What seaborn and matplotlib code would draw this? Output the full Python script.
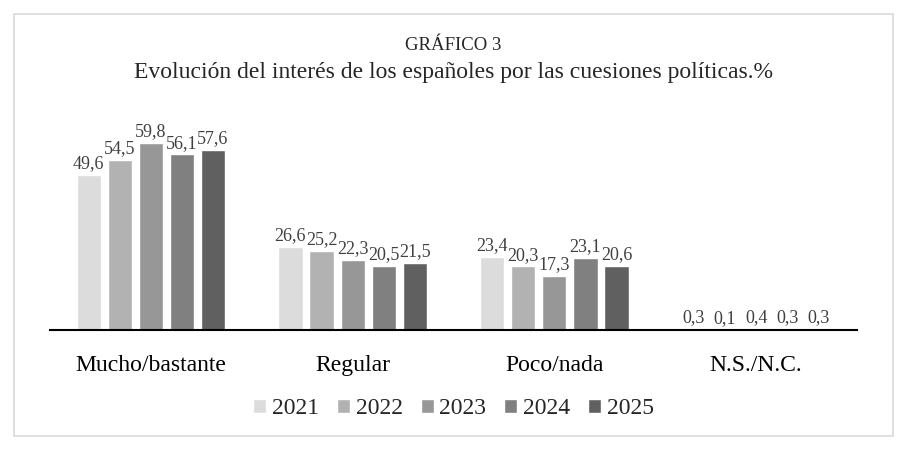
import matplotlib
matplotlib.use('Agg')
import matplotlib.pyplot as plt
import seaborn as sns
import pandas as pd
from matplotlib.patches import Rectangle

categories = ['Mucho/bastante', 'Regular', 'Poco/nada', 'N.S./N.C.']
years = ['2021', '2022', '2023', '2024', '2025']
v2021 = [49.6, 26.6, 23.4, 0.3]
v2022 = [54.5, 25.2, 20.3, 0.1]
v2023 = [59.8, 22.3, 17.3, 0.4]
v2024 = [56.1, 20.5, 23.1, 0.3]
v2025 = [57.6, 21.5, 20.6, 0.3]
colors = ['#dcdcdc', '#b2b2b2', '#979797', '#808080', '#606060']

series = [v2021, v2022, v2023, v2024, v2025]
rows = []
for y, vals in zip(years, series):
    for c, v in zip(categories, vals):
        rows.append({'cat': c, 'year': y, 'val': v})
df = pd.DataFrame(rows)

sns.set_theme(style='white')
plt.rcParams['font.family'] = ['Liberation Serif', 'DejaVu Serif']

fig = plt.figure(figsize=(9.07, 4.5), dpi=100)
ax = fig.add_axes([0.0551, 0.2667, 0.8898, 0.4866])
sns.barplot(data=df, x='cat', y='val', hue='year', palette=colors,
            width=0.77, gap=0.22, ax=ax, legend=True)

for cont in ax.containers:
    labels = [f'{v:.1f}'.replace('.', ',') for v in cont.datavalues]
    ax.bar_label(cont, labels=labels, padding=2, fontsize=13, color='#404040')

ax.set_ylim(0, 70)
ax.set_xlim(-0.5, 3.5)
ax.set_xlabel('')
ax.set_ylabel('')
ax.set_yticks([])
ax.tick_params(axis='x', labelsize=17, length=0, pad=18)
for lab in ax.get_xticklabels():
    lab.set_color('black')
for s in ['top', 'right', 'left']:
    ax.spines[s].set_visible(False)
ax.spines['bottom'].set_color('black')
ax.spines['bottom'].set_linewidth(1.5)

ax.legend(loc='upper center', bbox_to_anchor=(0.5, -0.215), ncol=5,
          frameon=False, fontsize=17, handlelength=0.55, handleheight=0.55,
          handletextpad=0.25, columnspacing=0.75)

fig.text(0.5, 0.898, 'GRÁFICO 3', ha='center', va='center', fontsize=13.5)
fig.text(0.5, 0.838, 'Evolución del interés de los españoles por las cuesiones políticas.%',
         ha='center', va='center', fontsize=17)

fig.patches.append(Rectangle((14 / 907, 14 / 450), 879 / 907, 422 / 450,
                             transform=fig.transFigure, fill=False,
                             edgecolor='#d9d9d9', linewidth=1.2))

fig.savefig('out.png', dpi=100)
plt.close(fig)
